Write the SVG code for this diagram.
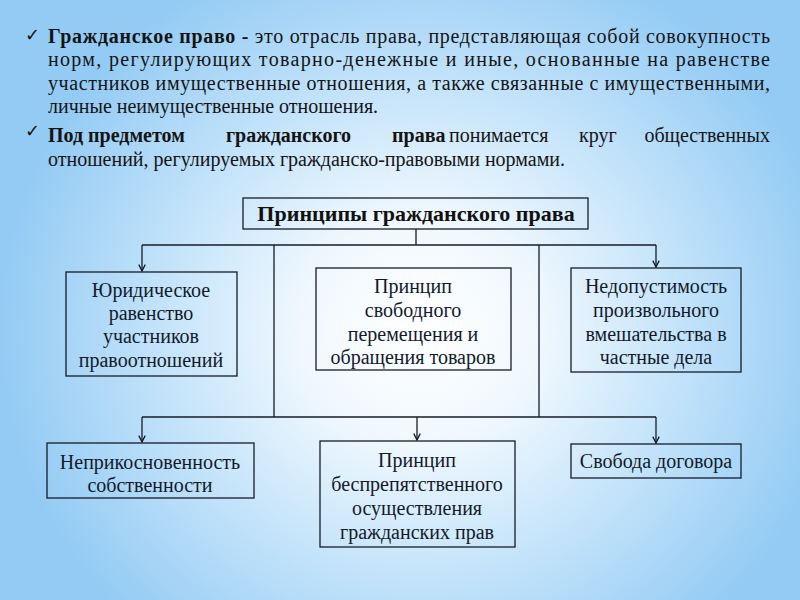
<svg xmlns="http://www.w3.org/2000/svg" width="800" height="600" viewBox="0 0 800 600">
<defs>
<radialGradient id="bg" gradientUnits="userSpaceOnUse" cx="420" cy="330" r="420" gradientTransform="translate(420 330) scale(1 0.95) translate(-420 -330)">
<stop offset="0" stop-color="#ffffff"/>
<stop offset="0.28" stop-color="#f0f8fe"/>
<stop offset="0.62" stop-color="#c3e3fa"/>
<stop offset="1" stop-color="#94cbf4"/>
</radialGradient>
<marker id="arr" viewBox="0 0 10 10" refX="9" refY="5" markerWidth="8" markerHeight="8" markerUnits="userSpaceOnUse" orient="auto">
<path d="M1 1 L9 5 L1 9" fill="none" stroke="#111827" stroke-width="1.6"/>
</marker>
</defs>
<style>
.para{font-family:"Liberation Serif","Times New Roman",serif;font-size:20px;fill:#141414}
.b{font-weight:bold}
.end{text-anchor:end}
.chk{font-family:"DejaVu Sans",sans-serif;font-size:18px;fill:#141414}
.box{fill:none;stroke:#161c28;stroke-width:1.3}
.lbl{font-family:"Liberation Serif","Times New Roman",serif;font-size:20px;fill:#121a2a;text-anchor:middle}
.ttl{font-family:"Liberation Serif","Times New Roman",serif;font-size:22px;font-weight:bold;fill:#111;text-anchor:middle}
.ln{fill:none;stroke:#161c28;stroke-width:1.3}
</style>
<rect width="800" height="600" fill="url(#bg)"/>

<g id="intro">
<text class="chk" x="25" y="41">✓</text>
<text class="para" x="48" y="43" textLength="722" lengthAdjust="spacing"><tspan class="b">Гражданское право -</tspan> это отрасль права, представляющая собой совокупность</text>
<text class="para" x="48" y="66" textLength="722" lengthAdjust="spacing">норм, регулирующих товарно-денежные и иные, основанные на равенстве</text>
<text class="para" x="48" y="90" textLength="722" lengthAdjust="spacing">участников имущественные отношения, а также связанные с имущественными,</text>
<text class="para" x="48" y="113">личные неимущественные отношения.</text>
<text class="chk" x="25" y="137">✓</text>
<text class="para b" x="48" y="142">Под предметом</text>
<text class="para b" x="226" y="142">гражданского</text>
<text class="para b" x="392" y="142">права</text>
<text class="para" x="449" y="142">понимается</text>
<text class="para" x="579" y="142">круг</text>
<text class="para end" x="770" y="142">общественных</text>
<text class="para" x="48" y="166">отношений, регулируемых гражданско-правовыми нормами.</text>
</g>

<g id="connectors">
<path class="ln" d="M416 229 V245 M142 245 H656 M274 245 V417 M539 245 V417 M142 417 H656"/>
<path class="ln" d="M142 245 V271" marker-end="url(#arr)"/>
<path class="ln" d="M656 245 V267" marker-end="url(#arr)"/>
<path class="ln" d="M142 417 V442" marker-end="url(#arr)"/>
<path class="ln" d="M417 417 V440" marker-end="url(#arr)"/>
<path class="ln" d="M656 417 V443" marker-end="url(#arr)"/>
</g>

<g id="n-title">
<rect class="box" x="243" y="198" width="345" height="31"/>
<text class="ttl" x="416" y="221">Принципы гражданского права</text>
</g>

<g id="n-ravenstvo">
<rect class="box" x="66" y="272" width="171" height="104"/>
<text class="lbl" x="151" y="297">Юридическое</text>
<text class="lbl" x="151" y="320">равенство</text>
<text class="lbl" x="151" y="343">участников</text>
<text class="lbl" x="151" y="367">правоотношений</text>
</g>

<g id="n-svobodnoe">
<rect class="box" x="316" y="268" width="195" height="102"/>
<text class="lbl" x="413" y="293">Принцип</text>
<text class="lbl" x="413" y="317">свободного</text>
<text class="lbl" x="413" y="341">перемещения и</text>
<text class="lbl" x="413" y="364">обращения товаров</text>
</g>

<g id="n-nedopustimost">
<rect class="box" x="571" y="268" width="170" height="104"/>
<text class="lbl" x="656" y="293">Недопустимость</text>
<text class="lbl" x="656" y="317">произвольного</text>
<text class="lbl" x="656" y="341">вмешательства в</text>
<text class="lbl" x="656" y="364">частные дела</text>
</g>

<g id="n-neprikosnovennost">
<rect class="box" x="47" y="443" width="207" height="55"/>
<text class="lbl" x="150" y="469">Неприкосновенность</text>
<text class="lbl" x="150" y="492">собственности</text>
</g>

<g id="n-besprepyatstvennoe">
<rect class="box" x="320" y="441" width="195" height="106"/>
<text class="lbl" x="417" y="467">Принцип</text>
<text class="lbl" x="417" y="491">беспрепятственного</text>
<text class="lbl" x="417" y="515">осуществления</text>
<text class="lbl" x="417" y="539">гражданских прав</text>
</g>

<g id="n-svoboda">
<rect class="box" x="571" y="444" width="170" height="34"/>
<text class="lbl" x="656" y="468">Свобода договора</text>
</g>
</svg>
